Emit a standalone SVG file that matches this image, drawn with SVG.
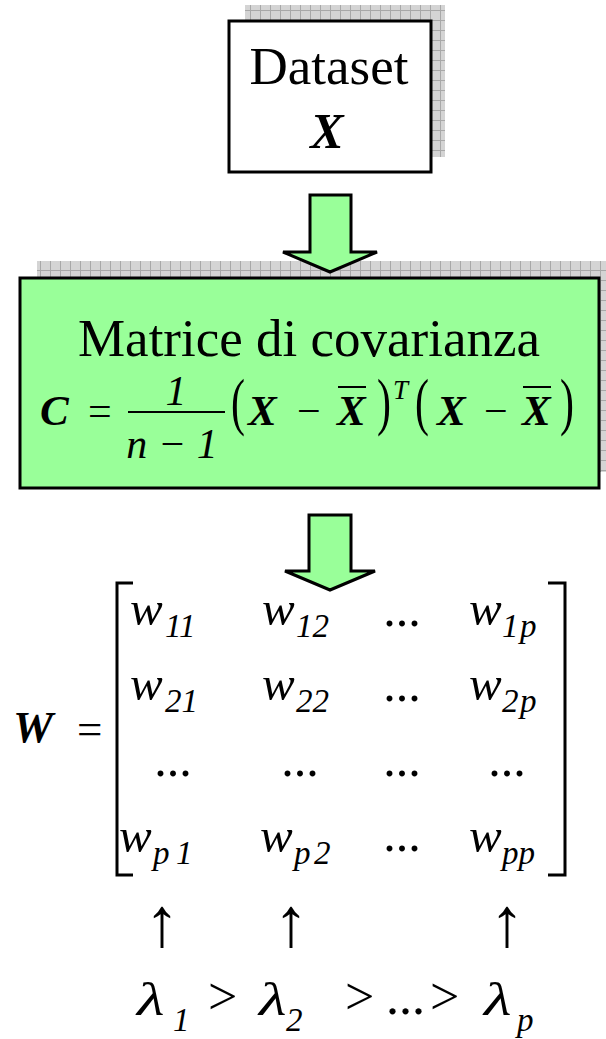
<svg xmlns="http://www.w3.org/2000/svg" width="606" height="1039" viewBox="0 0 606 1039">
<defs>
<pattern id="grid" width="10" height="10" patternUnits="userSpaceOnUse">
<rect width="10" height="10" fill="#d4d4d4"/>
<path d="M0 0.5H10M0.5 0V10" stroke="#a8a8a8" stroke-width="1"/>
</pattern>
<style>
text{font-family:"Liberation Serif","Times New Roman",serif;fill:#000}
.it{font-style:italic}
.bi{font-style:italic;font-weight:bold}
.box{stroke:#000;stroke-width:3}
.shadow{fill:url(#grid)}
.blk{fill:#99ff99;stroke:#000;stroke-width:3;stroke-linejoin:miter}
.ln{stroke:#000;fill:none}
</style>
</defs>
<rect width="606" height="1039" fill="#fff"/>

<g id="dataset">
<rect class="shadow" x="245" y="5" width="200" height="152"/>
<rect class="box" x="229" y="21" width="202" height="151" fill="#fff"/>
<text x="329" y="84" font-size="53" text-anchor="middle">Dataset</text>
<text class="bi" x="327" y="148" font-size="50" text-anchor="middle">X</text>
</g>

<g id="covariance">
<rect class="shadow" x="37" y="261" width="569" height="211"/>
<rect class="box" x="20" y="278" width="579" height="210" fill="#99ff99"/>
<text x="309" y="356" font-size="53" text-anchor="middle">Matrice di covarianza</text>
<text class="bi" x="40" y="425" font-size="43">C</text>
<text x="88" y="425" font-size="42">=</text>
<text class="it" x="176" y="405" font-size="42" text-anchor="middle">1</text>
<line class="ln" x1="128" y1="412" x2="225" y2="412" stroke-width="2"/>
<text class="it" x="172" y="458" font-size="42" text-anchor="middle">n − 1</text>
<text transform="translate(231,423) scale(1,1.5)" font-size="42">(</text>
<text class="bi" x="248" y="425" font-size="43">X</text>
<text x="297" y="425" font-size="42">−</text>
<text class="bi" x="337" y="425" font-size="43">X</text>
<line class="ln" x1="338" y1="387" x2="366" y2="387" stroke-width="2"/>
<text transform="translate(377,423) scale(1,1.5)" font-size="42">)</text>
<text class="it" x="393" y="399" font-size="27">T</text>
<text transform="translate(415,423) scale(1,1.5)" font-size="42">(</text>
<text class="bi" x="437" y="425" font-size="43">X</text>
<text x="484" y="425" font-size="42">−</text>
<text class="bi" x="522" y="425" font-size="43">X</text>
<line class="ln" x1="523" y1="387" x2="551" y2="387" stroke-width="2"/>
<text transform="translate(560,423) scale(1,1.5)" font-size="42">)</text>
</g>

<g id="matrix">
<text class="bi" x="13" y="742" font-size="45">W</text>
<text x="77" y="744" font-size="45">=</text>
<path class="ln" d="M133 583H117V875H133" stroke-width="3"/>
<path class="ln" d="M548 583H565V875H548" stroke-width="3"/>
<g class="it">
<text x="130" y="625" font-size="49">w</text><text x="165" y="637" font-size="33">11</text>
<text x="262" y="625" font-size="49">w</text><text x="296" y="637" font-size="33">12</text>
<text x="469" y="625" font-size="49">w</text><text x="502" y="637" font-size="33">1<tspan x="520">p</tspan></text>
<text x="130" y="700" font-size="49">w</text><text x="165" y="712" font-size="33">21</text>
<text x="262" y="700" font-size="49">w</text><text x="296" y="712" font-size="33">22</text>
<text x="469" y="700" font-size="49">w</text><text x="502" y="712" font-size="33">2<tspan x="520">p</tspan></text>
<text x="119" y="852" font-size="49">w</text><text x="153" y="864" font-size="33">p<tspan x="176">1</tspan></text>
<text x="260" y="852" font-size="49">w</text><text x="294" y="864" font-size="33">p<tspan x="314">2</tspan></text>
<text x="469" y="852" font-size="49">w</text><text x="502" y="864" font-size="33">pp</text>
</g>
<g font-size="50">
<text x="402" y="626" text-anchor="middle">...</text>
<text x="402" y="701" text-anchor="middle">...</text>
<text x="173" y="776" text-anchor="middle">...</text>
<text x="300" y="776" text-anchor="middle">...</text>
<text x="402" y="776" text-anchor="middle">...</text>
<text x="507" y="776" text-anchor="middle">...</text>
<text x="402" y="851" text-anchor="middle">...</text>
</g>
</g>

<g id="eigenvalues">
<text x="162" y="946" font-size="70" text-anchor="middle">↑</text>
<text x="291" y="946" font-size="70" text-anchor="middle">↑</text>
<text x="507" y="946" font-size="70" text-anchor="middle">↑</text>
<text class="it" transform="translate(137,1015) scale(1.35,1)" font-size="47">λ</text><text class="it" x="173" y="1031" font-size="33">1</text>
<text x="208" y="1014" font-size="52">&gt;</text>
<text class="it" transform="translate(259,1015) scale(1.35,1)" font-size="47">λ</text><text class="it" x="286" y="1031" font-size="33">2</text>
<text x="345" y="1014" font-size="52">&gt;<tspan x="386">...</tspan><tspan x="430">&gt;</tspan></text>
<text class="it" transform="translate(484,1015) scale(1.35,1)" font-size="47">λ</text><text class="it" x="517" y="1031" font-size="33">p</text>
</g>

<g id="connectors">
<polygon class="blk" points="310,195 351,195 351,252 377,252 330,272 283,252 310,252"/>
<polygon class="blk" points="309,515 351,515 351,571 375,571 330,590 285,571 309,571"/>
</g>
</svg>
